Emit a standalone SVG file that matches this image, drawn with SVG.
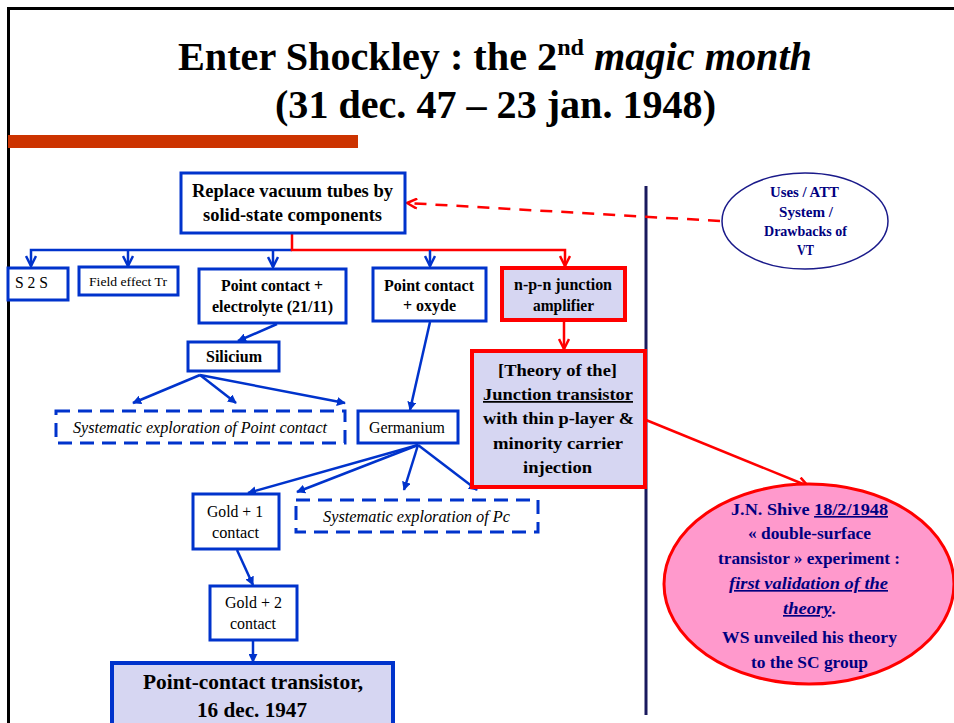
<svg xmlns="http://www.w3.org/2000/svg" width="954" height="723" viewBox="0 0 954 723">
<defs>
<style>
text{font-family:'Liberation Serif','Times New Roman',serif;}
.b{font-weight:bold;}
.i{font-style:italic;}
.box{fill:#fff;stroke:#0033CC;stroke-width:3;}
.dash{fill:#fff;stroke:#0033CC;stroke-width:3;stroke-dasharray:14,8;}
.lav{fill:#D6D6F2;}
.red{stroke:#FF0000;stroke-width:4;}
.bl{stroke:#0033CC;stroke-width:2.5;fill:none;}
.rl{stroke:#FF0000;stroke-width:2.5;fill:none;}
.navy{fill:#000080;}
</style>
<marker id="ab" viewBox="0 0 12 12" refX="11" refY="6" markerWidth="12" markerHeight="12" markerUnits="userSpaceOnUse" orient="auto">
<polyline points="1,1 11,6 1,11" fill="none" stroke="#0033CC" stroke-width="2.5"/>
</marker>
<marker id="ar" viewBox="0 0 12 12" refX="11" refY="6" markerWidth="12" markerHeight="12" markerUnits="userSpaceOnUse" orient="auto">
<polyline points="1,1 11,6 1,11" fill="none" stroke="#FF0000" stroke-width="2.5"/>
</marker>
<marker id="af" viewBox="0 0 10 10" refX="9" refY="5" markerWidth="9" markerHeight="9" markerUnits="userSpaceOnUse" orient="auto">
<path d="M0,0 L10,5 L0,10 Z" fill="#0033CC"/>
</marker>
</defs>
<rect width="954" height="723" fill="#fff"/>
<g id="frame">
<line x1="8.5" y1="8" x2="8.5" y2="723" stroke="#000" stroke-width="3"/>
<line x1="7" y1="8.5" x2="954" y2="8.5" stroke="#000" stroke-width="3"/>
<rect x="8" y="135" width="350" height="13" fill="#CC3300"/>
<line x1="646" y1="186" x2="646" y2="715" stroke="#1A1A5E" stroke-width="3"/>
</g>
<g id="title" class="b" font-size="40">
<text x="178" y="70" textLength="634" lengthAdjust="spacingAndGlyphs">Enter Shockley : the 2<tspan font-size="24" dy="-15">nd</tspan><tspan class="i" dy="15"> magic month</tspan></text>
<text x="275" y="118" textLength="441" lengthAdjust="spacingAndGlyphs">(31 dec. 47 – 23 jan. 1948)</text>
</g>
<g id="connectors">
<polyline class="bl" points="292,250 31,250 31,266" marker-end="url(#ab)"/>
<polyline class="bl" points="128,250 128,266" marker-end="url(#ab)"/>
<polyline class="bl" points="273,250 273,267" marker-end="url(#ab)"/>
<polyline class="rl" points="292,234 292,250 565,250 565,266" marker-end="url(#ar)"/>
<polyline class="bl" points="430,250 430,266" marker-end="url(#ab)"/>
<line class="rl" x1="564" y1="322" x2="564" y2="349" marker-end="url(#ar)"/>
<line x1="720" y1="221" x2="407" y2="203" stroke="#FF0000" stroke-width="2.5" stroke-dasharray="12,9" marker-end="url(#ar)"/>
<line class="bl" x1="277" y1="324" x2="238" y2="341" marker-end="url(#af)"/>
<line class="bl" x1="200" y1="375" x2="133" y2="403" marker-end="url(#af)"/>
<line class="bl" x1="200" y1="375" x2="236" y2="403" marker-end="url(#af)"/>
<line class="bl" x1="200" y1="375" x2="345" y2="403" marker-end="url(#af)"/>
<line class="bl" x1="430" y1="322" x2="410" y2="410" marker-end="url(#af)"/>
<line class="bl" x1="418" y1="445" x2="248" y2="493" marker-end="url(#af)"/>
<line class="bl" x1="418" y1="445" x2="297" y2="492" marker-end="url(#af)"/>
<line class="bl" x1="418" y1="445" x2="404" y2="490" marker-end="url(#af)"/>
<line class="bl" x1="418" y1="445" x2="477" y2="490" marker-end="url(#af)"/>
<line class="bl" x1="237" y1="550" x2="253" y2="585" marker-end="url(#af)"/>
<line class="bl" x1="253" y1="641" x2="253" y2="662" marker-end="url(#af)"/>
<line class="rl" x1="646" y1="420" x2="808" y2="486" marker-end="url(#ar)"/>
</g>
<g id="n-replace">
<rect class="box" x="181" y="173" width="224" height="60"/>
<text class="b" font-size="18.5" x="192" y="197" textLength="201" lengthAdjust="spacingAndGlyphs">Replace vacuum tubes by</text>
<text class="b" font-size="18.5" x="203" y="221" textLength="179" lengthAdjust="spacingAndGlyphs">solid-state components</text>
</g>
<g id="n-s2s">
<rect class="box" x="8" y="268" width="60" height="32"/>
<text font-size="16" x="15" y="288" textLength="33" lengthAdjust="spacingAndGlyphs">S 2 S</text>
</g>
<g id="n-fet">
<rect class="box" x="79" y="267" width="99" height="28"/>
<text font-size="13.5" x="89" y="286" textLength="78" lengthAdjust="spacingAndGlyphs">Field effect Tr</text>
</g>
<g id="n-electrolyte">
<rect class="box" x="199" y="269" width="147" height="54"/>
<text class="b" font-size="17" x="221" y="291" textLength="102" lengthAdjust="spacingAndGlyphs">Point contact +</text>
<text class="b" font-size="17" x="212" y="312" textLength="121" lengthAdjust="spacingAndGlyphs">electrolyte (21/11)</text>
</g>
<g id="n-oxyde">
<rect class="box" x="373" y="268" width="113" height="53"/>
<text class="b" font-size="17" x="384" y="291" textLength="90" lengthAdjust="spacingAndGlyphs">Point contact</text>
<text class="b" font-size="17" x="403" y="311" textLength="53" lengthAdjust="spacingAndGlyphs">+ oxyde</text>
</g>
<g id="n-npn">
<rect class="lav red" x="502" y="268" width="123" height="52"/>
<text class="b" font-size="17" x="514" y="290" textLength="98" lengthAdjust="spacingAndGlyphs">n-p-n junction</text>
<text class="b" font-size="17" x="533" y="311" textLength="61" lengthAdjust="spacingAndGlyphs">amplifier</text>
</g>
<g id="n-theory">
<rect class="lav red" x="472" y="351" width="173" height="136"/>
<g class="b" font-size="17.5">
<text x="498" y="376" textLength="119" lengthAdjust="spacingAndGlyphs">[Theory of the]</text>
<text x="483" y="400" text-decoration="underline" textLength="150" lengthAdjust="spacingAndGlyphs">Junction transistor</text>
<text x="483" y="424" textLength="151" lengthAdjust="spacingAndGlyphs">with thin p-layer &amp;</text>
<text x="493" y="449" textLength="130" lengthAdjust="spacingAndGlyphs">minority carrier</text>
<text x="523" y="473" textLength="69" lengthAdjust="spacingAndGlyphs">injection</text>
</g>
</g>
<g id="n-uses">
<ellipse cx="805" cy="221" rx="83" ry="48" fill="#fff" stroke="#1A1A8A" stroke-width="1.5"/>
<g class="b navy" font-size="14.5">
<text x="770" y="197" textLength="69" lengthAdjust="spacingAndGlyphs">Uses / ATT</text>
<text x="779" y="217" textLength="54" lengthAdjust="spacingAndGlyphs">System /</text>
<text x="764" y="236" textLength="83" lengthAdjust="spacingAndGlyphs">Drawbacks of</text>
<text x="797" y="255" textLength="17" lengthAdjust="spacingAndGlyphs">VT</text>
</g>
</g>
<g id="n-silicium">
<rect class="box" x="188" y="342" width="91" height="29"/>
<text class="b" font-size="16.5" x="206" y="362" textLength="56" lengthAdjust="spacingAndGlyphs">Silicium</text>
</g>
<g id="n-sys1">
<rect class="dash" x="56" y="411" width="289" height="32"/>
<text class="i" font-size="16" x="73" y="433" textLength="254" lengthAdjust="spacingAndGlyphs">Systematic exploration of Point contact</text>
</g>
<g id="n-germanium">
<rect class="box" x="358" y="411" width="100" height="32"/>
<text font-size="16" x="369" y="433" textLength="76" lengthAdjust="spacingAndGlyphs">Germanium</text>
</g>
<g id="n-gold1">
<rect class="box" x="193" y="494" width="86" height="55"/>
<text font-size="16" x="207" y="517" textLength="56" lengthAdjust="spacingAndGlyphs">Gold + 1</text>
<text font-size="16" x="212" y="538" textLength="47" lengthAdjust="spacingAndGlyphs">contact</text>
</g>
<g id="n-sys2">
<rect class="dash" x="296" y="500" width="242" height="32"/>
<text class="i" font-size="16" x="323" y="522" textLength="187" lengthAdjust="spacingAndGlyphs">Systematic exploration of  Pc</text>
</g>
<g id="n-gold2">
<rect class="box" x="210" y="586" width="87" height="54"/>
<text font-size="16" x="225" y="608" textLength="57" lengthAdjust="spacingAndGlyphs">Gold + 2</text>
<text font-size="16" x="230" y="629" textLength="46" lengthAdjust="spacingAndGlyphs">contact</text>
</g>
<g id="n-pct">
<rect class="lav" x="112" y="663" width="281" height="70" stroke="#0033CC" stroke-width="4"/>
<text class="b" font-size="21.5" x="143" y="689" textLength="220" lengthAdjust="spacingAndGlyphs">Point-contact transistor,</text>
<text class="b" font-size="21.5" x="197" y="717" textLength="110" lengthAdjust="spacingAndGlyphs">16 dec. 1947</text>
</g>
<g id="n-shive">
<ellipse cx="809" cy="584" rx="145" ry="100" fill="#FF99CC" stroke="#FF0000" stroke-width="3"/>
<g class="b navy" font-size="16.5">
<text x="731" y="515" textLength="157" lengthAdjust="spacingAndGlyphs">J.N. Shive <tspan text-decoration="underline">18/2/1948</tspan></text>
<text x="748" y="539" textLength="123" lengthAdjust="spacingAndGlyphs">« double-surface</text>
<text x="718" y="564" textLength="182" lengthAdjust="spacingAndGlyphs">transistor » experiment :</text>
<text x="729" y="589" font-style="italic" text-decoration="underline" textLength="159" lengthAdjust="spacingAndGlyphs">first validation of the</text>
<text x="783" y="614" textLength="53" lengthAdjust="spacingAndGlyphs"><tspan font-style="italic" text-decoration="underline">theory</tspan>.</text>
<text x="722" y="643" textLength="175" lengthAdjust="spacingAndGlyphs">WS unveiled his theory</text>
<text x="751" y="668" textLength="117" lengthAdjust="spacingAndGlyphs">to the SC group</text>
</g>
</g>
</svg>
